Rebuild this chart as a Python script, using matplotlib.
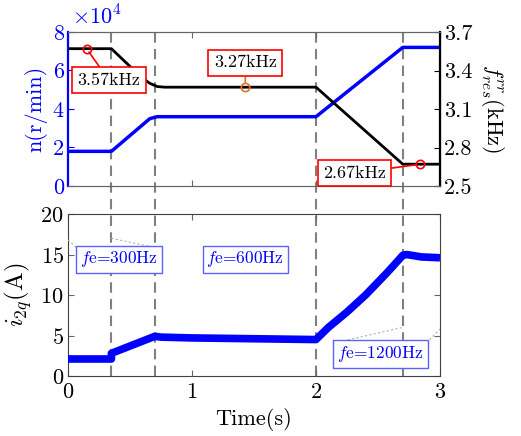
import matplotlib
matplotlib.use("Agg")
import matplotlib.pyplot as plt
from matplotlib.lines import Line2D
from matplotlib.transforms import blended_transform_factory
from matplotlib.ticker import FuncFormatter

plt.rcParams['font.family'] = 'serif'
plt.rcParams['font.serif'] = ['cmr10']
plt.rcParams['mathtext.fontset'] = 'cm'
plt.rcParams['axes.formatter.use_mathtext'] = True

# ---- data ----
t_speed = [0, 0.35, 0.66, 0.72, 2.0, 2.7, 3.0]
speed = [18000, 18000, 35000, 36000, 36000, 72000, 72000]

t_fres = [0, 0.35, 0.6, 0.66, 0.72, 0.78, 2.0, 2.7, 3.0]
fres = [3.57, 3.57, 3.34, 3.30, 3.275, 3.27, 3.27, 2.67, 2.67]

t_i = [0, 0.35, 0.35, 0.70, 0.75, 1.0, 1.5, 2.0, 2.1, 2.25, 2.4, 2.57, 2.70, 2.73, 2.85, 3.0]
i2q = [2.1, 2.1, 2.8, 4.9, 4.8, 4.7, 4.6, 4.5, 6.0, 7.9, 10.0, 12.7, 14.9, 15.0, 14.7, 14.6]

vlines_t = [0.35, 0.7, 2.0, 2.7]

W, H = 521, 436
fig = plt.figure(figsize=(W / 100, H / 100), dpi=100)
ax1 = fig.add_axes([68 / W, 1 - 186 / H, 372 / W, 154 / H])
ax2 = fig.add_axes([68 / W, 1 - 376 / H, 372 / W, 162 / H])
ax1.set_facecolor('none')
ax2.set_facecolor('none')

blue = '#0000ff'
fs = 16

# top plot
ax1.plot(t_speed, speed, color=blue, lw=2.5, zorder=3)
ax1.set_xlim(0, 3)
ax1.set_ylim(0, 80000)
ax1.set_yticks([0, 20000, 40000, 60000, 80000])
ax1.yaxis.set_major_formatter(FuncFormatter(lambda v, p: f"{v/1e4:.0f}"))
ax1.set_xticks([0, 1, 2, 3])
ax1.tick_params(axis='x', labelbottom=False, top=True, direction='in', length=4, colors='0.4')
ax1.tick_params(axis='y', direction='in', colors=blue, labelsize=fs, length=4, pad=3)
ax1.set_ylabel('n(r/min)', color=blue, fontsize=fs, labelpad=4)
ax1.text(0.01, 1.02, r'$\times10^4$', transform=ax1.transAxes, color=blue,
         fontsize=fs, ha='left', va='bottom')
ax1.spines['left'].set_color(blue)
ax1.spines['left'].set_linewidth(1.6)
ax1.spines['top'].set_color('0.4')
ax1.spines['bottom'].set_color('0.4')

ax1r = ax1.twinx()
ax1r.plot(t_fres, fres, color='black', lw=2.0, zorder=2)
ax1r.set_ylim(2.5, 3.7)
ax1r.set_yticks([2.5, 2.8, 3.1, 3.4, 3.7])
ax1r.yaxis.set_major_formatter(FuncFormatter(lambda v, p: f"{v:.1f}"))
ax1r.tick_params(axis='y', direction='in', labelsize=fs, length=4, pad=3)
ax1r.spines['right'].set_linewidth(1.6)
ax1r.spines['left'].set_visible(False)
ax1r.spines['top'].set_color('0.4')
ax1r.spines['bottom'].set_color('0.4')
ax1r.set_ylabel(r'$f^{rr}_{res}$(kHz)', fontsize=fs, rotation=-90, labelpad=24)

def note(ax, text, xy, xytext, ec, lc):
    ax.plot([xy[0]], [xy[1]], 'o', mfc='none', mec=lc, ms=6, mew=1.2, zorder=5)
    ax.annotate(text, xy=xy, xytext=xytext, fontsize=13, ha='center', va='center',
                bbox=dict(boxstyle='square,pad=0.3', fc='white', ec=ec, lw=1.2),
                arrowprops=dict(arrowstyle='-', color=lc, lw=1.2, shrinkA=0, shrinkB=3),
                zorder=6)

note(ax1r, '3.57kHz', (0.15, 3.57), (0.33, 3.325), 'red', 'red')
note(ax1r, '3.27kHz', (1.43, 3.27), (1.43, 3.46), 'red', '#e87020')
note(ax1r, '2.67kHz', (2.84, 2.67), (2.31, 2.60), 'red', 'red')

# bottom plot
ax2.plot(t_i, i2q, color=blue, lw=5.5, solid_capstyle='butt', solid_joinstyle='round', zorder=3)
ax2.set_xlim(0, 3)
ax2.set_ylim(0, 20)
ax2.set_xticks([0, 1, 2, 3])
ax2.set_yticks([0, 5, 10, 15, 20])
ax2.tick_params(direction='in', labelsize=fs, length=4, top=True, right=True, pad=5)
ax2.tick_params(axis='x', colors='0.4', labelcolor='black')
ax2.tick_params(axis='y', colors='0.4', labelcolor='black', pad=3)
ax2.set_ylabel(r'$i_{2q}$(A)', fontsize=fs + 2, labelpad=5)
ax2.set_xlabel('Time(s)', fontsize=fs, labelpad=4)
for s in ax2.spines.values():
    s.set_color('0.25')

def fbox(ax, text, xy):
    ax.text(xy[0], xy[1], text, fontsize=12.5, color=blue, ha='center', va='center',
            bbox=dict(boxstyle='square,pad=0.22', fc='white', ec='#6060ff', lw=1.0), zorder=6)

fbox(ax2, r'$f$e=300Hz', (0.41, 14.4))
fbox(ax2, r'$f$e=600Hz', (1.43, 14.4))
fbox(ax2, r'$f$e=1200Hz', (2.52, 2.7))

# thin dotted guide lines
guide = dict(color='0.7', lw=0.8, ls=(0, (2, 2)), zorder=4)
ax2.plot([0.0, 0.08], [16.8, 15.7], **guide)
ax2.plot([0.35, 0.72], [17.0, 15.8], **guide)
ax2.plot([2.15, 2.70], [4.1, 6.0], **guide)
ax2.plot([2.89, 3.0], [4.1, 5.8], **guide)

# vertical dashed lines across both panels
tr = blended_transform_factory(ax2.transData, fig.transFigure)
for tv in vlines_t:
    fig.add_artist(Line2D([tv, tv], [1 - 376 / H, 1 - 32 / H], transform=tr,
                          color='0.5', lw=1.5, ls=(0, (5, 3)), zorder=-1))

fig.savefig('out.png', dpi=100)
